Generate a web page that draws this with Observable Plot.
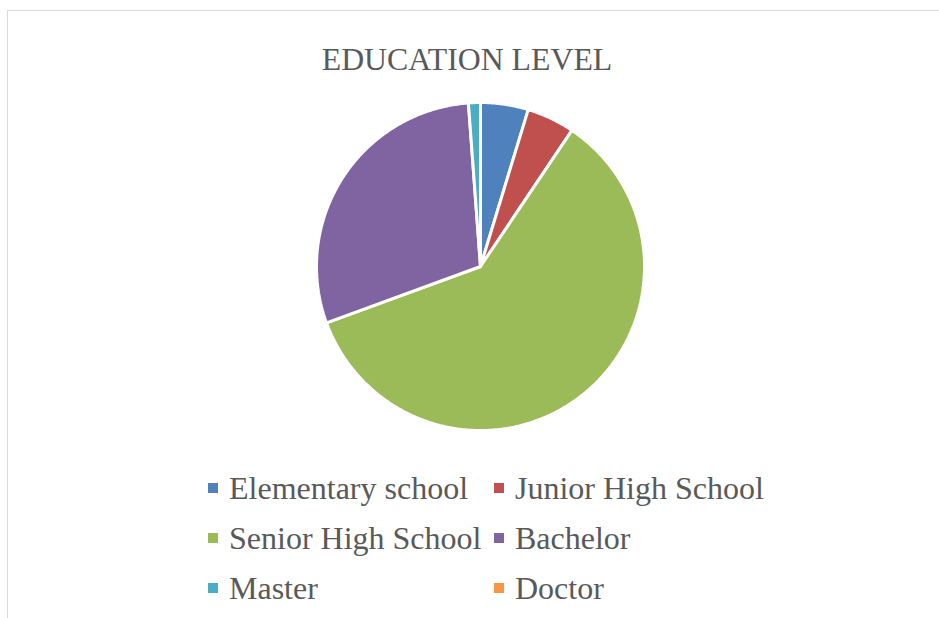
<!DOCTYPE html>
<html><head><meta charset="utf-8">
<script src="https://cdn.jsdelivr.net/npm/d3@7"></script>
<script src="https://cdn.jsdelivr.net/npm/@observablehq/plot@0.6"></script>
<style>
body{margin:0;background:#fff;}
#frame{position:relative;width:939px;height:618px;overflow:hidden;font-family:"Liberation Serif","Times New Roman",serif;color:#595959;background:#fff;}
#border{position:absolute;left:7px;top:10px;right:-10px;bottom:-10px;border-left:1.5px solid #d9d9d9;border-top:1.5px solid #d9d9d9;}
#title{position:absolute;left:0;width:934px;top:44px;text-align:center;font-size:31.8px;line-height:1;white-space:nowrap;}
#pie{position:absolute;left:310px;top:96px;}
.item{position:absolute;font-size:32px;line-height:1;white-space:nowrap;}
.sw{position:absolute;width:10px;height:10px;}
</style></head><body>
<div id="frame"><div id="border"></div><div id="title"></div><div id="pie"></div><div id="legend"></div></div>
<script>
const titleText = "EDUCATION LEVEL";
const categories = ["Elementary school","Junior High School","Senior High School","Bachelor","Master","Doctor"];
const values = [4, 4, 51, 25, 1, 0];
const colors = ["#4F81BD","#C0504D","#9BBB59","#8064A2","#4BACC6","#F79646"];

document.getElementById("title").textContent = titleText;

const rows = categories.map((c, i) => ({cat: c, value: values[i]}));
const arcs = d3.pie().sort(null).value(d => d.value)(rows);
const pts = [];
arcs.forEach(a => {
  const span = a.endAngle - a.startAngle;
  if (span <= 0) return;
  const cat = a.data.cat;
  const n = Math.max(2, Math.ceil(span / (Math.PI / 360)));
  pts.push({cat, x: 0, y: 0});
  for (let i = 0; i <= n; i++) {
    const t = a.startAngle + span * i / n;
    pts.push({cat, x: Math.sin(t), y: Math.cos(t)});
  }
  pts.push({cat, x: 0, y: 0});
});

const chart = Plot.plot({
  width: 340, height: 340, margin: 6,
  x: {domain: [-1, 1], axis: null},
  y: {domain: [-1, 1], axis: null},
  color: {domain: categories, range: colors},
  marks: [
    Plot.line(pts, {x: "x", y: "y", z: "cat", fill: "cat", stroke: "white", strokeWidth: 3, strokeLinejoin: "miter"})
  ]
});
document.getElementById("pie").appendChild(chart);

const legend = document.getElementById("legend");
categories.forEach((c, i) => {
  const col = i % 2, row = Math.floor(i / 2);
  const sx = col === 0 ? 208 : 494;
  const ty = 472 + row * 50;
  const sw = document.createElement("div");
  sw.className = "sw";
  sw.style.left = sx + "px";
  sw.style.top = (ty + 11) + "px";
  sw.style.background = colors[i];
  const t = document.createElement("div");
  t.className = "item";
  t.style.left = (sx + 21) + "px";
  t.style.top = ty + "px";
  t.textContent = c;
  legend.appendChild(sw);
  legend.appendChild(t);
});
</script>
</body></html>
